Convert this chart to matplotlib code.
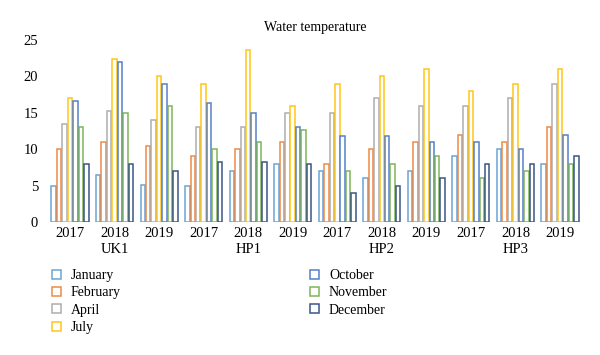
import numpy as np
import matplotlib
matplotlib.use("Agg")
from matplotlib import pyplot as plt

plt.rcParams['font.family'] = ['Liberation Serif', 'DejaVu Serif']

# data
years = ["2017", "2018", "2019"] * 4
sites = ["UK1", "HP1", "HP2", "HP3"]
months = ["January", "February", "April", "July", "October", "November", "December"]
colors = ["#5B9BD5", "#ED7D31", "#A5A5A5", "#FFC000", "#4472C4", "#70AD47", "#264478"]

january  = [5.0, 6.4, 5.1, 5.0, 7.0, 8.0, 7.0, 6.0, 7.0, 9.0, 10.0, 8.0]
february = [10.0, 11.0, 10.5, 9.0, 10.0, 11.0, 8.0, 10.0, 11.0, 12.0, 11.0, 13.0]
april    = [13.5, 15.2, 14.0, 13.0, 13.0, 15.0, 15.0, 17.0, 16.0, 16.0, 17.0, 19.0]
july     = [17.0, 22.4, 20.0, 19.0, 23.7, 16.0, 19.0, 20.0, 21.0, 18.0, 19.0, 21.0]
october  = [16.6, 22.0, 19.0, 16.3, 15.0, 13.0, 11.8, 11.8, 11.0, 11.0, 10.0, 12.0]
november = [13.0, 15.0, 16.0, 10.0, 11.0, 12.6, 7.0, 8.0, 9.0, 6.0, 7.0, 8.0]
december = [8.0, 8.0, 7.0, 8.2, 8.2, 8.0, 4.0, 5.0, 6.0, 8.0, 8.0, 9.0]
series = [january, february, april, july, october, november, december]

fig = plt.figure(figsize=(6, 3.55), dpi=100)
ax = fig.add_axes([0.0795, 0.375, 0.891, 0.512])

x = np.arange(len(years))
step = 0.122
for j, (vals, c) in enumerate(zip(series, colors)):
    ax.bar(x + (j - 3) * step, vals, width=0.1, facecolor="white",
           edgecolor=c, linewidth=1.1, alpha=0.9, label=months[j])

ax.set_xlim(-0.5, len(years) - 0.5)
ax.set_ylim(0, 25)
ax.set_yticks([0, 5, 10, 15, 20, 25])
ax.set_xticks(x)
ax.set_xticklabels(years)
ax.tick_params(axis='both', length=0, labelsize=10.5)
ax.tick_params(axis='x', pad=4)
ax.tick_params(axis='y', pad=7)
for s in ax.spines.values():
    s.set_visible(False)

for i, site in enumerate(sites):
    ax.text(3 * i + 1, -3.85, site, ha='center', va='center', fontsize=10.5,
            transform=ax.transData)

fig.text(0.525, 0.922, "Water temperature", ha='center', va='center', fontsize=10)

fig.legend(loc='upper left', bbox_to_anchor=(0.075, 0.262), ncol=2, frameon=False,
           fontsize=10, handlelength=0.62, handleheight=0.62, handletextpad=0.75,
           columnspacing=13.6, labelspacing=0.32, borderpad=0)

fig.savefig("out.png", dpi=100)
